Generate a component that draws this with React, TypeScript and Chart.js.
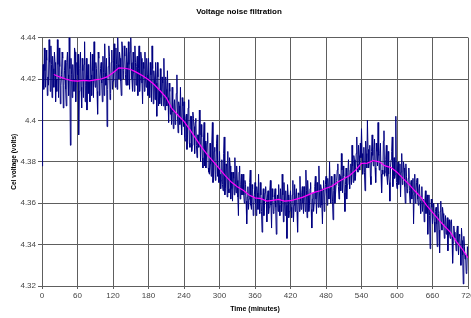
import React, { useEffect, useRef } from "react";
import { Chart, registerables } from "chart.js";

Chart.register(...registerables);

// Sampling interval of the raw measurement (minutes)
const SAMPLE_STEP_MIN = 1;

// Raw (noisy) cell voltage, one sample per minute from 0 to 720
const rawVoltage = [
  4.378,4.419,4.427,4.415,4.435,4.424,4.416,4.434,4.429,4.412,4.421,4.417,4.439,4.428,4.414,4.436,4.427,4.411,4.431,4.425,
  4.416,4.433,4.428,4.409,4.420,4.414,4.439,4.427,4.411,4.435,4.426,4.408,4.417,4.422,4.433,4.430,4.406,4.417,4.424,4.429,
  4.415,4.407,4.428,4.433,4.422,4.412,4.440,4.425,4.388,4.430,4.422,4.411,4.427,4.420,4.414,4.435,4.433,4.409,4.419,4.428,
  4.422,4.432,4.393,4.414,4.425,4.433,4.416,4.406,4.430,4.424,4.411,4.427,4.438,4.409,4.417,4.430,4.405,4.422,4.427,4.413,
  4.420,4.409,4.433,4.422,4.412,4.432,4.424,4.411,4.438,4.420,4.416,4.428,4.425,4.414,4.403,4.433,4.430,4.412,4.419,4.425,
  4.428,4.418,4.409,4.431,4.423,4.412,4.437,4.423,4.417,4.430,4.397,4.415,4.426,4.436,4.431,4.410,4.413,4.428,4.434,4.415,
  4.419,4.429,4.437,4.424,4.416,4.435,4.427,4.415,4.440,4.427,4.420,4.433,4.430,4.419,4.412,4.438,4.435,4.420,4.424,4.436,
  4.431,4.422,4.417,4.435,4.428,4.417,4.438,4.427,4.415,4.433,4.440,4.428,4.420,4.414,4.433,4.423,4.414,4.436,4.428,4.417,
  4.426,4.431,4.412,4.425,4.436,4.414,4.420,4.433,4.430,4.418,4.408,4.428,4.425,4.414,4.433,4.420,4.416,4.430,4.422,4.412,
  4.430,4.419,4.411,4.428,4.422,4.409,4.436,4.425,4.408,4.424,4.420,4.410,4.428,4.418,4.402,4.428,4.421,4.407,4.415,4.408,
  4.425,4.411,4.407,4.421,4.418,4.407,4.430,4.411,4.405,4.421,4.415,4.407,4.424,4.411,4.399,4.418,4.414,4.403,4.406,4.398,
  4.416,4.404,4.396,4.407,4.410,4.398,4.403,4.413,4.422,4.402,4.394,4.409,4.407,4.398,4.416,4.401,4.393,4.411,4.407,4.397,
  4.409,4.392,4.390,4.401,4.403,4.386,4.393,4.406,4.410,4.389,4.387,4.402,4.402,4.385,4.388,4.404,4.401,4.397,4.384,4.399,
  4.401,4.388,4.382,4.393,4.393,4.387,4.405,4.393,4.380,4.398,4.392,4.382,4.377,4.391,4.399,4.378,4.390,4.377,4.383,4.389,
  4.394,4.377,4.375,4.374,4.389,4.379,4.373,4.389,4.399,4.370,4.372,4.385,4.387,4.371,4.374,4.389,4.393,4.373,4.377,4.370,
  4.385,4.374,4.367,4.371,4.381,4.369,4.366,4.384,4.392,4.364,4.367,4.379,4.378,4.363,4.385,4.367,4.365,4.382,4.378,4.362,
  4.375,4.367,4.361,4.375,4.372,4.364,4.382,4.369,4.365,4.378,4.371,4.363,4.354,4.375,4.378,4.362,4.369,4.374,4.364,4.367,
  4.374,4.364,4.360,4.371,4.369,4.361,4.350,4.363,4.368,4.357,4.362,4.370,4.376,4.359,4.357,4.369,4.367,4.354,4.359,4.364,
  4.370,4.360,4.354,4.368,4.365,4.357,4.374,4.362,4.355,4.370,4.364,4.356,4.346,4.362,4.367,4.354,4.359,4.365,4.368,4.362,
  4.351,4.363,4.366,4.355,4.358,4.366,4.371,4.359,4.348,4.367,4.363,4.355,4.356,4.364,4.367,4.358,4.345,4.361,4.364,4.356,
  4.369,4.359,4.354,4.367,4.362,4.356,4.374,4.364,4.351,4.370,4.361,4.354,4.366,4.359,4.343,4.369,4.364,4.353,4.356,4.362,
  4.366,4.358,4.353,4.364,4.371,4.351,4.359,4.369,4.356,4.363,4.367,4.356,4.346,4.365,4.364,4.356,4.373,4.361,4.357,4.365,
  4.368,4.360,4.355,4.368,4.363,4.356,4.376,4.366,4.353,4.371,4.364,4.356,4.359,4.367,4.370,4.357,4.348,4.362,4.365,4.356,
  4.360,4.368,4.373,4.362,4.355,4.370,4.366,4.358,4.378,4.365,4.358,4.369,4.367,4.359,4.350,4.366,4.371,4.356,4.363,4.369,
  4.373,4.365,4.359,4.372,4.367,4.362,4.380,4.368,4.360,4.373,4.369,4.361,4.352,4.366,4.374,4.360,4.364,4.369,4.371,4.376,
  4.379,4.368,4.362,4.374,4.373,4.366,4.384,4.376,4.365,4.378,4.373,4.365,4.356,4.369,4.377,4.362,4.369,4.375,4.381,4.373,
  4.367,4.376,4.379,4.369,4.388,4.378,4.370,4.383,4.381,4.371,4.373,4.384,4.392,4.379,4.375,4.388,4.383,4.376,4.389,4.382,
  4.396,4.384,4.374,4.380,4.387,4.375,4.366,4.390,4.384,4.377,4.400,4.386,4.377,4.380,4.388,4.373,4.369,4.385,4.393,4.383,
  4.378,4.386,4.391,4.377,4.370,4.389,4.385,4.378,4.399,4.383,4.376,4.384,4.389,4.374,4.365,4.376,4.374,4.390,4.395,4.373,
  4.375,4.381,4.388,4.373,4.369,4.385,4.374,4.370,4.361,4.377,4.381,4.385,4.392,4.368,4.373,4.382,4.372,4.374,4.402,4.370,
  4.367,4.377,4.380,4.369,4.373,4.379,4.363,4.375,4.384,4.369,4.371,4.380,4.377,4.368,4.360,4.379,4.373,4.365,4.367,4.372,
  4.377,4.366,4.360,4.369,4.371,4.362,4.365,4.372,4.350,4.364,4.374,4.360,4.365,4.370,4.372,4.362,4.359,4.367,4.369,4.361,
  4.355,4.363,4.368,4.356,4.361,4.362,4.351,4.360,4.366,4.355,4.359,4.364,4.345,4.358,4.364,4.354,4.338,4.356,4.362,4.358,
  4.350,4.355,4.360,4.351,4.346,4.356,4.358,4.350,4.339,4.360,4.355,4.347,4.336,4.356,4.361,4.350,4.347,4.358,4.355,4.350,
  4.343,4.351,4.354,4.345,4.347,4.353,4.337,4.347,4.352,4.345,4.343,4.351,4.352,4.344,4.331,4.341,4.349,4.346,4.343,4.342,
  4.337,4.346,4.349,4.341,4.335,4.345,4.344,4.338,4.330,4.348,4.342,4.335,4.321,4.344,4.339,4.333,4.335,4.326,4.327,4.339,
  4.334,
];

// Filtered (moving average) voltage
const filteredTime = [
  20, 30, 40, 50, 60, 70, 80, 90, 100, 110,
  120, 130, 140, 150, 160, 170, 180, 190, 200, 210,
  220, 230, 240, 250, 260, 270, 280, 290, 300, 310,
  320, 330, 340, 350, 360, 370, 380, 390, 400, 410,
  420, 430, 440, 450, 460, 470, 480, 490, 500, 510,
  520, 530, 540, 550, 560, 570, 580, 590, 600, 610,
  620, 630, 640, 650, 660, 670, 680, 690, 700, 710,
  720,
];
const filteredVoltage = [
  4.4222, 4.4210, 4.4200, 4.4192, 4.4190, 4.4193, 4.4191, 4.4196, 4.4200, 4.4210,
  4.4230, 4.4254, 4.4252, 4.4246, 4.4232, 4.4216, 4.4196, 4.4172, 4.4142, 4.4110,
  4.4055, 4.4025, 4.3995, 4.3955, 4.3912, 4.3870, 4.3832, 4.3800, 4.3766, 4.3732,
  4.3702, 4.3680, 4.3662, 4.3640, 4.3626, 4.3622, 4.3610, 4.3614, 4.3618, 4.3610,
  4.3612, 4.3620, 4.3628, 4.3640, 4.3652, 4.3660, 4.3672, 4.3682, 4.3702, 4.3718,
  4.3734, 4.3760, 4.3792, 4.3794, 4.3806, 4.3800, 4.3780, 4.3772, 4.3750, 4.3720,
  4.3692, 4.3660, 4.3630, 4.3590, 4.3556, 4.3522, 4.3490, 4.3460, 4.3416, 4.3380,
  4.3336,
];

const X_MIN = 0;
const X_MAX = 720;
const X_STEP = 60;
const Y_MIN = 4.32;
const Y_MAX = 4.44;
const Y_STEP = 0.02;

const TITLE = "Voltage noise filtration";
const X_TITLE = "Time (minutes)";
const Y_TITLE = "Cel voltage (volts)";

export default function App() {
  const canvasRef = useRef<HTMLCanvasElement | null>(null);

  useEffect(() => {
    if (!canvasRef.current) return;
    const rawPoints = rawVoltage.map((v, i) => ({ x: i * SAMPLE_STEP_MIN, y: v }));
    const filtPoints = filteredVoltage.map((v, i) => ({ x: filteredTime[i], y: v }));
    const tickFont = { family: "'Liberation Sans Narrow', Arial, sans-serif", size: 8 };
    const gridColor = "#5e5e5e";

    const chart = new Chart(canvasRef.current, {
      type: "line",
      data: {
        datasets: [
          {
            label: "Filtered",
            data: filtPoints,
            borderColor: "#ff00ff",
            borderWidth: 1.2,
            pointRadius: 0,
            tension: 0,
            fill: false,
          },
          {
            label: "Raw",
            data: rawPoints,
            borderColor: "#000080",
            borderWidth: 1,
            pointRadius: 0,
            tension: 0,
            fill: false,
          },
        ],
      },
      options: {
        animation: false,
        responsive: false,
        events: [],
        layout: { padding: { left: 10, right: 3, top: 0, bottom: 0 } },
        plugins: {
          legend: { display: false },
          tooltip: { enabled: false },
          title: {
            display: true,
            text: TITLE,
            color: "#000",
            font: { family: "Arial, 'Liberation Sans', sans-serif", size: 8, weight: "bold" },
            padding: { top: 7, bottom: 21 },
          },
        },
        scales: {
          x: {
            type: "linear",
            min: X_MIN,
            max: X_MAX,
            ticks: {
              stepSize: X_STEP,
              color: "#444",
              font: tickFont,
              padding: 2,
              maxRotation: 0,
              autoSkip: false,
            },
            grid: { color: gridColor, lineWidth: 1, tickLength: 3, drawTicks: true },
            border: { color: gridColor },
            title: {
              display: true,
              text: X_TITLE,
              color: "#000",
              font: { family: "Arial, 'Liberation Sans', sans-serif", size: 7, weight: "bold" },
              padding: { top: 0, bottom: 5 },
            },
            afterFit: (scale: any) => {
              scale.height = 32;
              scale.paddingLeft = 0;
              scale.paddingRight = 0;
            },
          },
          y: {
            type: "linear",
            min: Y_MIN,
            max: Y_MAX,
            ticks: {
              stepSize: Y_STEP,
              color: "#444",
              font: tickFont,
              padding: 2,
              callback: (v: any) => String(Number(Number(v).toFixed(2))),
            },
            grid: { color: gridColor, lineWidth: 1, tickLength: 4, drawTicks: true },
            border: { color: gridColor },
            title: {
              display: true,
              text: Y_TITLE,
              color: "#000",
              font: { family: "Arial, 'Liberation Sans', sans-serif", size: 6.5, weight: "bold" },
              padding: { top: 0, bottom: 0 },
            },
            afterFit: (scale: any) => {
              scale.width = 32;
              scale.paddingTop = 0;
              scale.paddingBottom = 0;
            },
          },
        },
      },
    });
    return () => chart.destroy();
  }, []);

  return (
    <div style={{ position: "fixed", left: 0, top: 0, width: 471, height: 318, background: "#fff" }}>
      <canvas ref={canvasRef} width={471} height={318} style={{ display: "block" }} />
    </div>
  );
}
